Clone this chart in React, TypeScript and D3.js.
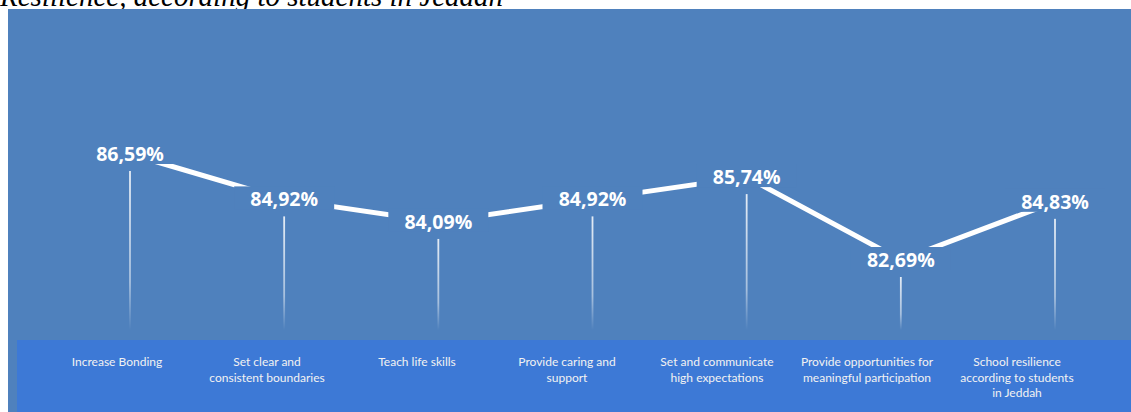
import React from "react";
import * as d3 from "d3";

const categories: string[][] = [
  ["Increase Bonding"],
  ["Set clear and", "consistent boundaries"],
  ["Teach life skills"],
  ["Provide caring and", "support"],
  ["Set and communicate", "high expectations"],
  ["Provide opportunities for", "meaningful participation"],
  ["School resilience", "according to students", "in Jeddah"],
];
const values: number[] = [86.59, 84.92, 84.09, 84.92, 85.74, 82.69, 84.83];
const valueLabels: string[] = ["86,59%", "84,92%", "84,09%", "84,92%", "85,74%", "82,69%", "84,83%"];
const title = "Resilience, according to students in Jeddah";

const W = 1131;
const H = 412;
const PANEL = "#4f81bd";
const BAND = "#3d79d6";

export default function App() {
  const idx = values.map((_, i) => String(i));
  const x = d3.scalePoint<string>().domain(idx).range([130, 1055]);
  const xl = d3.scalePoint<string>().domain(idx).range([117, 1017]);
  const y = d3.scaleLinear().domain([82.69, 86.59]).range([260, 154]);
  const line = d3
    .line<number>()
    .x((_, i) => x(String(i)) as number)
    .y((d) => y(d));

  return (
    <svg
      width={W}
      height={H}
      style={{ position: "absolute", left: 0, top: 0, background: "#fff" }}
    >
      <defs>
        <linearGradient id="drop" x1="0" y1="0" x2="0" y2="1">
          <stop offset="0" stopColor="#fff" stopOpacity={0.85} />
          <stop offset="0.7" stopColor="#fff" stopOpacity={0.5} />
          <stop offset="1" stopColor="#fff" stopOpacity={0} />
        </linearGradient>
      </defs>
      <text
        x={0}
        y={6}
        fontFamily="'Liberation Serif', 'DejaVu Serif', serif"
        fontStyle="italic"
        fontSize={29}
        fill="#000"
      >
        {title}
      </text>
      <rect x={8} y={9} width={W - 8} height={H - 9} fill={PANEL} />
      <rect x={17} y={340} width={W - 17} height={H - 340} fill={BAND} />
      {values.map((v, i) => (
        <rect
          key={"d" + i}
          x={(x(String(i)) as number) - 0.9}
          y={y(v) + 17}
          width={1.8}
          height={330 - (y(v) + 17)}
          fill="url(#drop)"
        />
      ))}
      <path d={line(values) || ""} fill="none" stroke="#fff" strokeWidth={5} />
      {values.map((v, i) => (
        <g key={"l" + i} transform={`translate(${x(String(i))},${y(v)})`}>
          <rect x={-50} y={-13} width={100} height={23} fill={PANEL} />
          <text
            textAnchor="middle"
            dy="0.36em"
            fontFamily="'Open Sans', sans-serif"
            fontWeight={700}
            fontSize={19.5}
            fill="#fff"
          >
            {valueLabels[i]}
          </text>
        </g>
      ))}
      {categories.map((lines, i) => (
        <text
          key={"c" + i}
          x={xl(String(i)) as number}
          y={366}
          textAnchor="middle"
          fontFamily="Lato, sans-serif"
          fontSize={12}
          fill="#f2f2f2"
        >
          {lines.map((t, j) => (
            <tspan key={j} x={xl(String(i)) as number} dy={j === 0 ? 0 : 15.5}>
              {t}
            </tspan>
          ))}
        </text>
      ))}
    </svg>
  );
}
